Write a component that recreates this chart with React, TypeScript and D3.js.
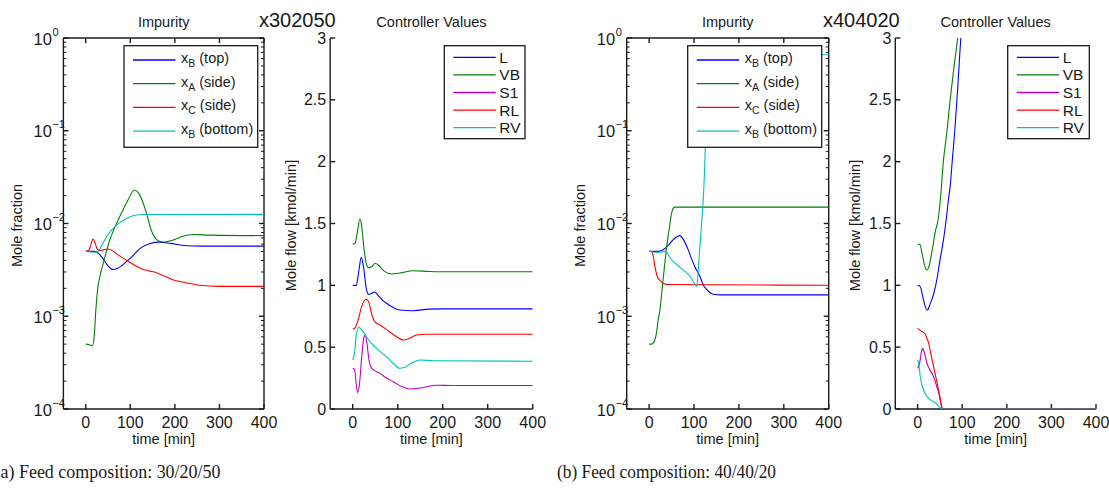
import React from "react";
import * as d3 from "d3";

type Pt = [number, number];

// ---------------- data ----------------
const TIME_DOMAIN: [number, number] = [-50, 400];
const TIME_TICKS = [0, 100, 200, 300, 400];
const LOG_TICKS = [1e-4, 1e-3, 1e-2, 1e-1, 1];
const LOG_TICK_EXPONENTS = ["\u22124", "\u22123", "\u22122", "\u22121", "0"];
const FLOW_TICKS = [0, 0.5, 1, 1.5, 2, 2.5, 3];
const FLOW_TICK_LABELS = ["0", "0.5", "1", "1.5", "2", "2.5", "3"];

const IMPURITY_SUBS = ["B", "A", "C", "B"];
const IMPURITY_RESTS = [" (top)", " (side)", " (side)", " (bottom)"];
const IMPURITY_COLORS = ["#0000ff", "#008000", "#ff0000", "#00bfbf"];
const CONTROLLER_LABELS = ["L", "VB", "S1", "RL", "RV"];
const CONTROLLER_COLORS = ["#0000ff", "#008000", "#bf00bf", "#ff0000", "#00bfbf"];

// (a) feed 30/20/50 — impurity (mole fraction)
const A_XB_TOP: Pt[] = [[0,0.005],[20,0.005],[30,0.0047],[40,0.0041],[48,0.0036],[60,0.0032],[72,0.0033],[92,0.0039],[108,0.0046],[122,0.0054],[145,0.0061],[165,0.0063],[190,0.0061],[220,0.0058],[260,0.0057],[400,0.0057]];
const A_XA_SIDE: Pt[] = [[0,0.0005],[10,0.00049],[15,0.00048],[19,0.0006],[23,0.0012],[27,0.002],[32,0.0027],[40,0.0038],[54,0.0066],[70,0.0102],[84,0.0141],[95,0.0179],[109,0.023],[118,0.0215],[126,0.018],[136,0.0131],[147,0.0085],[159,0.0067],[174,0.0063],[195,0.0066],[215,0.0072],[241,0.0076],[280,0.0075],[400,0.0074]];
const A_XC_SIDE: Pt[] = [[0,0.005],[8,0.0052],[12,0.006],[16,0.0068],[20,0.0064],[26,0.0053],[32,0.0051],[40,0.0052],[50,0.0053],[60,0.0051],[75,0.0045],[92,0.004],[108,0.0036],[122,0.0033],[140,0.0031],[159,0.00295],[178,0.0027],[197,0.00246],[225,0.0023],[256,0.00216],[300,0.0021],[400,0.0021]];
const A_XB_BOTTOM: Pt[] = [[0,0.005],[20,0.0049],[28,0.005],[35,0.0057],[47,0.0072],[60,0.0087],[75,0.0101],[90,0.0112],[106,0.0121],[130,0.0125],[400,0.01255]];

// (a) controller values (kmol/min)
const A_L: Pt[] = [[0,1.0],[8,1.0],[13,1.1],[19,1.226],[24,1.15],[30,0.98],[35,0.927],[42,0.935],[49,0.946],[56,0.92],[65,0.885],[75,0.855],[90,0.82],[104,0.8],[135,0.795],[170,0.808],[200,0.81],[400,0.81]];
const A_VB: Pt[] = [[0,1.334],[5,1.34],[10,1.42],[16,1.536],[20,1.48],[25,1.3],[30,1.18],[35,1.143],[42,1.15],[50,1.178],[58,1.16],[70,1.115],[87,1.092],[105,1.1],[135,1.118],[170,1.112],[200,1.11],[400,1.11]];
const A_S1: Pt[] = [[0,0.329],[4,0.32],[8,0.2],[11,0.132],[15,0.2],[20,0.42],[25,0.58],[28,0.598],[32,0.52],[36,0.4],[40,0.342],[49,0.31],[60,0.29],[75,0.25],[90,0.221],[110,0.18],[127,0.162],[150,0.17],[187,0.192],[220,0.19],[400,0.19]];
const A_RL: Pt[] = [[0,0.647],[5,0.655],[12,0.72],[20,0.83],[30,0.887],[36,0.86],[42,0.77],[49,0.706],[60,0.68],[75,0.644],[95,0.59],[113,0.558],[125,0.57],[142,0.598],[165,0.605],[400,0.605]];
const A_RV: Pt[] = [[0,0.396],[4,0.45],[8,0.6],[14,0.66],[22,0.63],[35,0.56],[49,0.504],[62,0.46],[75,0.423],[90,0.37],[104,0.329],[115,0.335],[130,0.37],[150,0.396],[180,0.39],[400,0.386]];

// (b) feed 40/40/20 — impurity (mole fraction)
const B_XB_TOP: Pt[] = [[0,0.005],[20,0.005],[31,0.0052],[45,0.006],[55,0.0068],[68,0.0074],[78,0.0065],[87,0.0052],[95,0.0041],[102,0.0034],[113,0.0027],[120,0.0022],[128,0.00195],[143,0.00173],[160,0.0017],[400,0.0017]];
const B_XA_SIDE: Pt[] = [[0,0.0005],[5,0.0005],[10,0.00052],[16,0.00065],[20,0.0009],[24,0.00117],[31,0.00246],[39,0.0056],[45,0.0089],[50,0.0129],[54,0.0147],[58,0.015],[400,0.015]];
const B_XC_SIDE: Pt[] = [[0,0.005],[5,0.005],[9,0.0045],[13,0.0034],[17,0.0028],[20,0.00257],[25,0.0024],[31,0.00227],[40,0.0022],[400,0.00216]];
const B_XB_BOTTOM: Pt[] = [[0,0.005],[15,0.0049],[25,0.0049],[37,0.005],[45,0.0044],[54,0.00387],[65,0.0035],[76,0.00315],[85,0.0029],[94,0.00257],[100,0.0023],[106,0.0021],[110,0.0035],[114,0.0065],[118,0.012],[121,0.02],[124,0.045],[126,0.1],[129,0.3],[132,0.66],[400,0.66]];

// (b) controller values (kmol/min)
const B_L: Pt[] = [[0,1.0],[6,0.99],[12,0.9],[17,0.83],[22,0.8],[28,0.85],[36,0.93],[43,1.043],[50,1.2],[58,1.367],[64,1.528],[69,1.69],[73,1.8],[78,2.02],[84,2.28],[90,2.6],[97,3.0],[105,3.3]];
const B_VB: Pt[] = [[0,1.334],[5,1.33],[10,1.26],[15,1.17],[21,1.124],[26,1.16],[32,1.27],[40,1.44],[46,1.53],[51,1.69],[58,2.01],[66,2.25],[73,2.5],[81,2.75],[90,3.0],[100,3.3]];
const B_S1: Pt[] = [[0,0.329],[4,0.36],[8,0.45],[11,0.49],[15,0.46],[21,0.37],[27,0.32],[32,0.289],[38,0.24],[43,0.18],[48,0.12],[53,0.03],[56,0],[400,0]];
const B_RL: Pt[] = [[0,0.652],[8,0.63],[17,0.606],[21,0.57],[25,0.531],[30,0.44],[36,0.342],[42,0.24],[47,0.154],[52,0.06],[55,0.006],[56,0],[400,0]];
const B_RV: Pt[] = [[0,0.396],[2,0.38],[6,0.261],[10,0.19],[13.4,0.154],[18,0.12],[24.6,0.086],[30,0.07],[35.8,0.059],[41,0.045],[47,0.024],[52,0.006],[54,0],[400,0]];

const TITLES = ["Impurity", "Controller Values"];
const Y_LABELS = ["Mole fraction", "Mole flow [kmol/min]"];
const X_LABEL = "time [min]";
const CASE_LABELS = ["x302050", "x404020"];
const CAPTIONS = ["a) Feed composition: 30/20/50", "(b) Feed composition: 40/40/20"];

// ---------------- layout ----------------
const W = 1109;
const H = 488;
const TOP = 38;
const BOTTOM = 409;
const FONT = "'Liberation Sans', Arial, Helvetica, sans-serif";
const SERIF = "'Liberation Serif', 'DejaVu Serif', serif";
const INK = "#1a1a1a";

type PanelProps = {
  id: string;
  kind: "log" | "lin";
  left: number;
  right: number;
  series: Pt[][];
  colors: string[];
  legendX: number;
  legendW: number;
  ylabelX: number;
  title: string;
  ylabel: string;
};

function Panel(p: PanelProps) {
  const x = d3.scaleLinear().domain(TIME_DOMAIN).range([p.left, p.right]);
  const isLog = p.kind === "log";
  const y: any = isLog
    ? d3.scaleLog().domain([1e-4, 1]).range([BOTTOM, TOP])
    : d3.scaleLinear().domain([0, 3]).range([BOTTOM, TOP]);
  const line = d3
    .line<Pt>()
    .x((d) => x(d[0]))
    .y((d) => y(d[1]))
    .curve(d3.curveMonotoneX);
  const cx = (p.left + p.right) / 2;
  const cy = (TOP + BOTTOM) / 2;
  const minor: number[] = [];
  if (isLog) {
    for (let e = -4; e < 0; e++) for (let m = 2; m <= 9; m++) minor.push(m * Math.pow(10, e));
  }
  const legTop = 45.7;
  const legH = isLog ? 101.6 : 93;
  const legFirst = isLog ? 14.3 : 11.6;
  const legStep = isLog ? 23.7 : 17.6;
  const tickLen = 5;
  return (
    <g>
      <defs>
        <clipPath id={`clip-${p.id}`}>
          <rect x={p.left} y={TOP} width={p.right - p.left} height={BOTTOM - TOP} />
        </clipPath>
      </defs>
      {/* title */}
      <text x={cx} y={27} textAnchor="middle" fontSize={14.5} fill={INK} fontFamily={FONT}>
        {p.title}
      </text>
      {/* y label */}
      <text
        transform={`translate(${p.ylabelX},${cy + 2}) rotate(-90)`}
        textAnchor="middle"
        fontSize={14.5}
        fill={INK}
        fontFamily={FONT}
        dy="0.35em"
      >
        {p.ylabel}
      </text>
      {/* x label */}
      <text x={cx} y={444} textAnchor="middle" fontSize={14.5} fill={INK} fontFamily={FONT}>
        {X_LABEL}
      </text>
      {/* axes */}
      <g stroke={INK} strokeWidth={1.4} fill="none">
        <line x1={p.left} x2={p.left} y1={TOP} y2={BOTTOM} />
        <line x1={p.left} x2={p.right} y1={BOTTOM} y2={BOTTOM} />
        {isLog && <line x1={p.left} x2={p.right} y1={TOP} y2={TOP} />}
        {isLog && <line x1={p.right} x2={p.right} y1={TOP} y2={BOTTOM} />}
        {TIME_TICKS.map((t) => (
          <g key={`xt${t}`}>
            <line x1={x(t)} x2={x(t)} y1={BOTTOM} y2={BOTTOM - tickLen} />
            {isLog && <line x1={x(t)} x2={x(t)} y1={TOP} y2={TOP + tickLen} />}
          </g>
        ))}
        {(isLog ? LOG_TICKS : FLOW_TICKS).map((v) => (
          <g key={`yt${v}`}>
            <line x1={p.left} x2={p.left + tickLen} y1={y(v)} y2={y(v)} />
            {isLog && <line x1={p.right} x2={p.right - tickLen} y1={y(v)} y2={y(v)} />}
          </g>
        ))}
        {minor.map((v) => (
          <g key={`mt${v}`} strokeWidth={1}>
            <line x1={p.left} x2={p.left + 3} y1={y(v)} y2={y(v)} />
            <line x1={p.right} x2={p.right - 3} y1={y(v)} y2={y(v)} />
          </g>
        ))}
      </g>
      {/* tick labels */}
      <g fontFamily={FONT} fill={INK}>
        {TIME_TICKS.map((t) => (
          <text key={`xl${t}`} x={x(t)} y={427.5} textAnchor="middle" fontSize={16}>
            {String(t)}
          </text>
        ))}
        {isLog
          ? LOG_TICKS.map((v, i) => (
              <g key={`yl${v}`}>
                <text x={p.left - 11.5} y={y(v) + 6.5} textAnchor="end" fontSize={16.5}>
                  10
                </text>
                <text x={p.left - 11} y={y(v) - 2.5} textAnchor="start" fontSize={11}>
                  {LOG_TICK_EXPONENTS[i]}
                </text>
              </g>
            ))
          : FLOW_TICKS.map((v, i) => (
              <text key={`yl${v}`} x={p.left - 4} y={y(v) + 5.5} textAnchor="end" fontSize={16}>
                {FLOW_TICK_LABELS[i]}
              </text>
            ))}
      </g>
      {/* series */}
      <g clipPath={`url(#clip-${p.id})`} fill="none" strokeWidth={1.1}>
        {p.series.map((s, i) => (
          <path key={i} d={line(s) || ""} stroke={p.colors[i]} />
        ))}
      </g>
      {/* legend */}
      <g>
        <rect x={p.legendX} y={legTop} width={p.legendW} height={legH} fill="#fff" stroke={INK} strokeWidth={1.3} />
        {p.colors.map((c, i) => {
          const ly = legTop + legFirst + i * legStep;
          return (
            <g key={`lg${i}`}>
              <line x1={p.legendX + 9} x2={p.legendX + 51.5} y1={ly} y2={ly} stroke={c} strokeWidth={1.3} />
              {isLog ? (
                <text x={p.legendX + 57} y={ly + 3} fontSize={14.5} fill={INK} fontFamily={FONT}>
                  x
                  <tspan dy={4} fontSize={10.5}>
                    {IMPURITY_SUBS[i]}
                  </tspan>
                  <tspan dy={-4} fontSize={14.5}>
                    {IMPURITY_RESTS[i]}
                  </tspan>
                </text>
              ) : (
                <text x={p.legendX + 55} y={ly + 5.5} fontSize={15.5} fill={INK} fontFamily={FONT}>
                  {CONTROLLER_LABELS[i]}
                </text>
              )}
            </g>
          );
        })}
      </g>
    </g>
  );
}

export default function App() {
  return (
    <svg
      width={W}
      height={H}
      viewBox={`0 0 ${W} ${H}`}
      style={{ position: "absolute", left: 0, top: 0, background: "#fff" }}
    >
      <rect x={0} y={0} width={W} height={H} fill="#fff" />
      <Panel
        id="a-imp"
        kind="log"
        left={63.4}
        right={264}
        series={[A_XB_TOP, A_XA_SIDE, A_XC_SIDE, A_XB_BOTTOM]}
        colors={IMPURITY_COLORS}
        legendX={124}
        legendW={133.7}
        ylabelX={17}
        title={TITLES[0]}
        ylabel={Y_LABELS[0]}
      />
      <Panel
        id="a-ctl"
        kind="lin"
        left={330.2}
        right={532.7}
        series={[A_L, A_VB, A_S1, A_RL, A_RV]}
        colors={CONTROLLER_COLORS}
        legendX={444.3}
        legendW={80.7}
        ylabelX={291}
        title={TITLES[1]}
        ylabel={Y_LABELS[1]}
      />
      <Panel
        id="b-imp"
        kind="log"
        left={626.7}
        right={828.7}
        series={[B_XB_TOP, B_XA_SIDE, B_XC_SIDE, B_XB_BOTTOM]}
        colors={IMPURITY_COLORS}
        legendX={687.7}
        legendW={134}
        ylabelX={580}
        title={TITLES[0]}
        ylabel={Y_LABELS[0]}
      />
      <Panel
        id="b-ctl"
        kind="lin"
        left={895.3}
        right={1096}
        series={[B_L, B_VB, B_S1, B_RL, B_RV]}
        colors={CONTROLLER_COLORS}
        legendX={1007.7}
        legendW={81.6}
        ylabelX={855}
        title={TITLES[1]}
        ylabel={Y_LABELS[1]}
      />
      <text x={259} y={26.5} fontSize={20} fill={INK} fontFamily={FONT}>
        {CASE_LABELS[0]}
      </text>
      <text x={823} y={26.5} fontSize={20} fill={INK} fontFamily={FONT}>
        {CASE_LABELS[1]}
      </text>
      <text
        x={0.5}
        y={478}
        fontSize={19}
        fill={INK}
        fontFamily={SERIF}
        textLength={220}
        lengthAdjust="spacingAndGlyphs"
      >
        {CAPTIONS[0]}
      </text>
      <text
        x={557}
        y={478}
        fontSize={19}
        fill={INK}
        fontFamily={SERIF}
        textLength={219}
        lengthAdjust="spacingAndGlyphs"
      >
        {CAPTIONS[1]}
      </text>
    </svg>
  );
}
